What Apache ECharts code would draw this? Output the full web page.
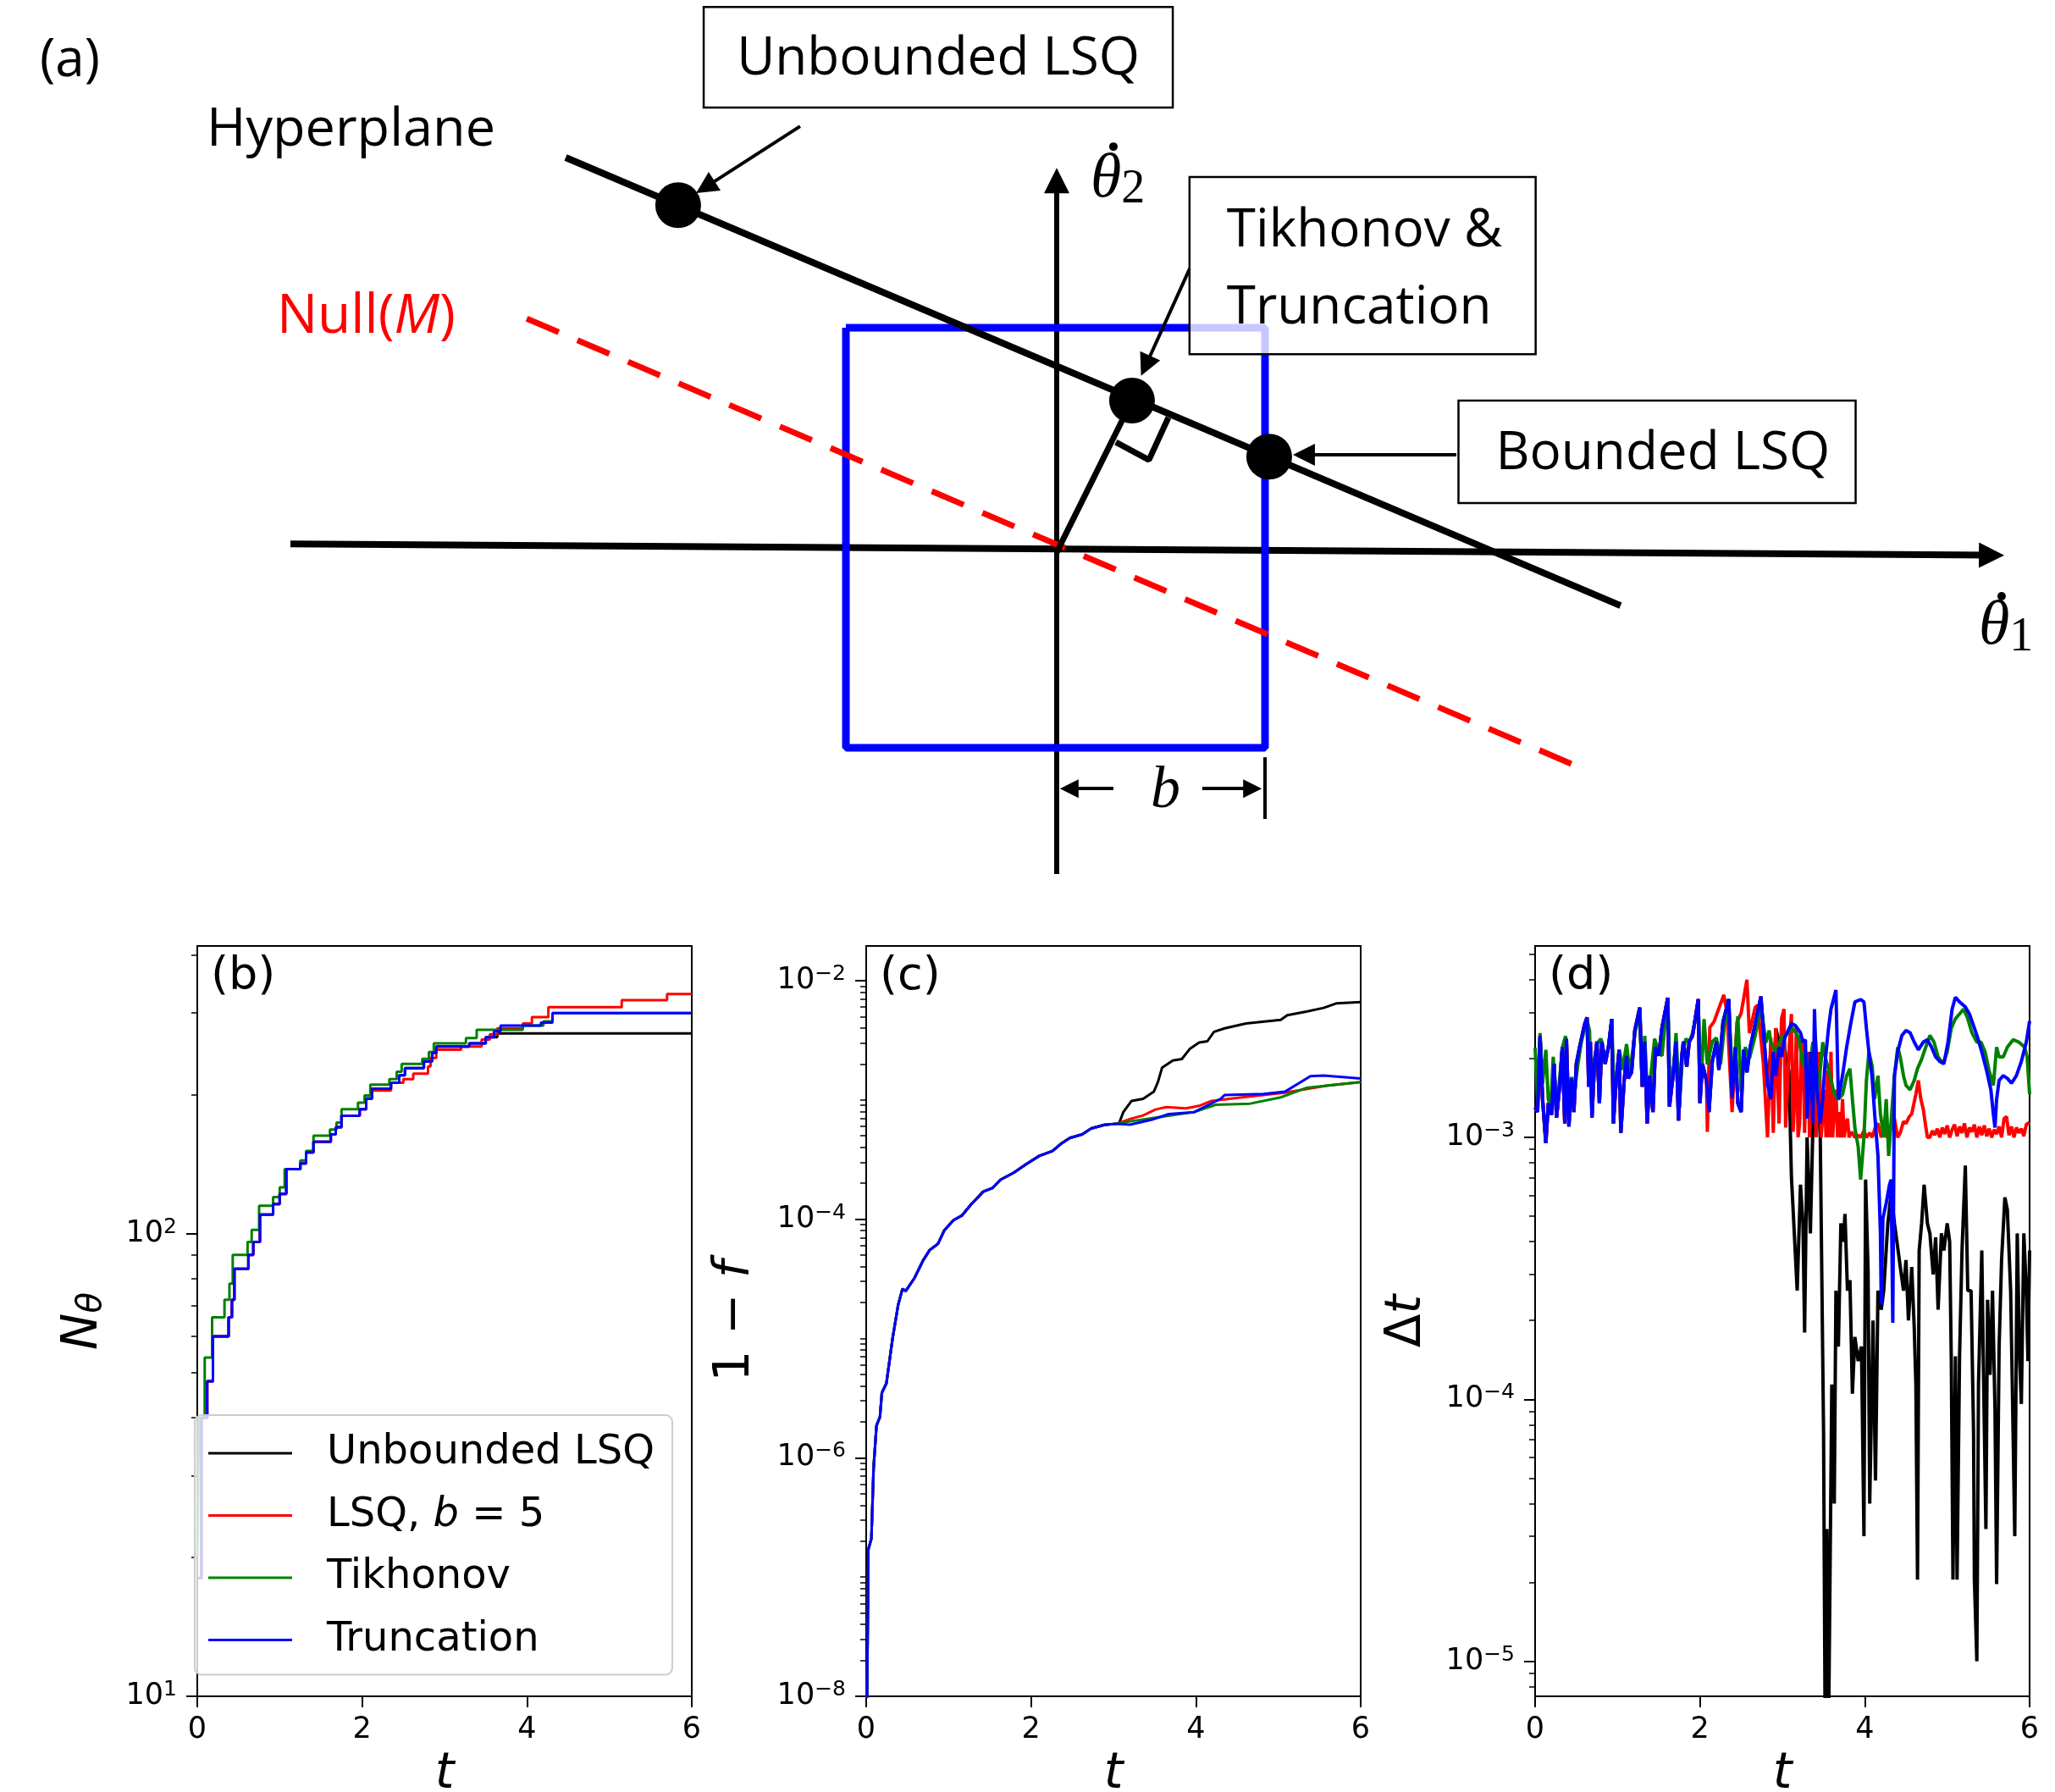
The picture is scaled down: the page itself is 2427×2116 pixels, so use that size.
<!DOCTYPE html>
<html>
<head>
<meta charset="utf-8">
<title>LSQ bounds</title>
<script src="https://cdn.jsdelivr.net/npm/echarts@6/dist/echarts.min.js"></script>
<style>
  html, body { margin: 0; padding: 0; background: #fff; }
  #chart { width: 2427px; height: 2116px; }
</style>
</head>
<body>
<div id="chart"></div>
<script>
// ---------- panel (a): schematic, in units of the bound b ----------
var hyperplane = [[-2.348, 1.887], [2.696, -0.255]];
var nullLine = [[-2.534, 1.117], [2.462, -1.012]];
var boundSquare = [[-1.008, 1.073], [0.996, 1.073], [0.996, -0.935], [-1.008, -0.935], [-1.008, 1.073]];
var axisTheta1 = [[-3.664, 0.040], [4.470, -0.014]];
var axisTheta2 = [[0, -1.538], [0, 1.777]];
var perpLine = [[0, 0], [0.36, 0.725]];
var rightAngle = [[0.283, 0.526], [0.441, 0.441], [0.534, 0.644]];
var solutionDots = [[-1.81, 1.659], [0.36, 0.725], [1.016, 0.457]];
var pointerArrows = [
  [[-1.227, 2.036], [-1.680, 1.745]],
  [[0.636, 1.356], [0.425, 0.891]],
  [[1.911, 0.466], [1.182, 0.466]]
];
var bArrows = [[[0.271, -1.130], [0.06, -1.130]], [[0.696, -1.130], [0.936, -1.130]]];
var bTick = [[0.996, -0.980], [0.996, -1.275]];
// boxes: [u1, v1, u2, v2]
var labelBoxes = [[-1.688, 2.607, 0.555, 2.126], [0.635, 1.794, 2.290, 0.947], [1.921, 0.725, 3.820, 0.235]];
var boxTexts = ['Unbounded LSQ', 'Tikhonov &\nTruncation', 'Bounded LSQ'];
var textAnchors = [[-4.862, 2.348], [-4.065, 2.016], [-3.729, 1.121], [0.162, 1.779], [4.409, -0.36], [0.52, -1.142]];
var overDots = [[0.271, 1.939], [4.518, -0.21]];

// ---------- panels (b)-(d) ----------
var seriesNames = ['Unbounded LSQ', 'LSQ, b = 5', 'Tikhonov', 'Truncation'];
var seriesColors = ['#000000', '#ff0000', '#008000', '#0000ff'];
var tTicks = [0, 2, 4, 6];
var majorB = [10, 100];
var minorB = [20, 30, 40, 50, 60, 70, 80, 90, 200, 300, 400];
var majorC = [1e-8, 1e-6, 1e-4, 1e-2];
var majorD = [1e-5, 1e-4, 1e-3];

// (b) number of parameters, steps [t, N]
var nUnbounded = [[0, 18], [0.05, 40], [0.12, 48], [0.19, 60], [0.38, 66], [0.42, 72], [0.45, 84], [0.62, 90], [0.68, 96], [0.76, 110], [0.92, 116], [1.0, 122], [1.08, 138], [1.25, 142], [1.32, 150], [1.41, 158], [1.62, 164], [1.68, 170], [1.75, 180], [1.97, 186], [2.05, 196], [2.12, 206], [2.35, 212], [2.45, 220], [2.52, 228], [2.75, 236], [2.85, 246], [2.9, 254], [3.3, 258], [3.5, 266], [3.64, 271], [6, 271]];
var nBounded = [[0, 18], [0.05, 40], [0.12, 48], [0.19, 60], [0.38, 66], [0.42, 72], [0.45, 84], [0.62, 90], [0.68, 96], [0.76, 110], [0.92, 116], [1.0, 122], [1.08, 138], [1.25, 142], [1.32, 150], [1.41, 158], [1.62, 164], [1.68, 170], [1.75, 180], [1.97, 186], [2.05, 196], [2.12, 204], [2.35, 212], [2.5, 216], [2.62, 222], [2.8, 230], [2.83, 240], [2.9, 250], [3.2, 254], [3.45, 263], [3.55, 270], [3.64, 278], [3.95, 285], [4.06, 294], [4.26, 309], [5.15, 320], [5.7, 330], [6, 330]];
var nTikhonov = [[0, 20], [0.02, 40], [0.09, 54], [0.18, 66], [0.33, 72], [0.39, 78], [0.43, 90], [0.61, 96], [0.66, 102], [0.75, 115], [0.92, 120], [1.0, 126], [1.06, 138], [1.25, 144], [1.32, 151], [1.41, 163], [1.61, 168], [1.69, 174], [1.75, 186], [1.95, 192], [2.03, 199], [2.10, 210], [2.33, 216], [2.42, 224], [2.48, 233], [2.73, 239], [2.81, 247], [2.87, 258], [3.26, 265], [3.39, 276], [3.95, 282], [4.2, 288], [4.31, 300], [6, 300]];
var nTruncation = [[0, 18], [0.05, 40], [0.12, 48], [0.19, 60], [0.38, 66], [0.42, 72], [0.45, 84], [0.62, 90], [0.68, 96], [0.76, 110], [0.92, 116], [1.0, 122], [1.08, 138], [1.25, 142], [1.32, 150], [1.41, 158], [1.62, 164], [1.68, 170], [1.75, 180], [1.97, 186], [2.05, 196], [2.12, 206], [2.35, 212], [2.45, 220], [2.52, 228], [2.75, 236], [2.85, 246], [2.9, 254], [3.3, 258], [3.5, 266], [3.6, 274], [3.68, 282], [4.17, 286], [4.31, 300], [6, 300]];

// (c) 1 - f
var fidEarly = [[0.01, 8e-9], [0.026, 1.7e-7], [0.063, 2.1e-7], [0.09, 8.3e-7], [0.125, 1.86e-6], [0.167, 2.2e-6], [0.19, 3.5e-6], [0.245, 4.2e-6], [0.32, 1.0e-5], [0.387, 1.9e-5], [0.44, 2.6e-5], [0.48, 2.5e-5], [0.585, 3.2e-5], [0.69, 4.5e-5], [0.77, 5.5e-5], [0.87, 6.2e-5], [0.95, 8.1e-5], [1.06, 9.8e-5], [1.16, 1.07e-4], [1.27, 1.32e-4], [1.42, 1.7e-4], [1.53, 1.82e-4], [1.63, 2.14e-4], [1.79, 2.45e-4], [1.94, 2.88e-4], [2.1, 3.39e-4], [2.26, 3.72e-4], [2.36, 4.27e-4], [2.47, 4.79e-4], [2.62, 5.13e-4], [2.73, 5.75e-4], [2.89, 6.17e-4], [3.04, 6.31e-4]];
var fidUnboundedTail = [[3.07, 6.4e-4], [3.12, 7.9e-4], [3.22, 9.8e-4], [3.36, 1.02e-3], [3.49, 1.17e-3], [3.54, 1.41e-3], [3.59, 1.86e-3], [3.72, 2.14e-3], [3.83, 2.2e-3], [3.93, 2.69e-3], [4.04, 3.02e-3], [4.14, 3.1e-3], [4.22, 3.72e-3], [4.35, 3.98e-3], [4.61, 4.37e-3], [5.03, 4.68e-3], [5.11, 5.13e-3], [5.34, 5.5e-3], [5.55, 5.9e-3], [5.71, 6.45e-3], [6, 6.6e-3]];
var fidBoundedTail = [[3.2, 6.9e-4], [3.36, 7.4e-4], [3.51, 8.3e-4], [3.64, 8.7e-4], [3.88, 8.5e-4], [4.04, 8.9e-4], [4.19, 9.8e-4], [4.56, 1.05e-3], [5.08, 1.15e-3], [5.6, 1.32e-3], [6, 1.41e-3]];
var fidTikhonovTail = [[3.2, 6.6e-4], [3.51, 7.1e-4], [3.98, 7.9e-4], [4.24, 9.1e-4], [4.66, 9.3e-4], [5.03, 1.05e-3], [5.34, 1.26e-3], [6, 1.41e-3]];
var fidTruncationTail = [[3.2, 6.2e-4], [3.46, 6.8e-4], [3.67, 7.6e-4], [3.98, 7.9e-4], [4.3, 1.02e-3], [4.35, 1.1e-3], [4.82, 1.12e-3], [5.08, 1.17e-3], [5.39, 1.58e-3], [5.55, 1.6e-3], [6, 1.51e-3]];

// (d) time step
var dtShared = [[0, 1.30e-3], [0.03, 1.25e-3], [0.06, 2.44e-3], [0.09, 1.41e-3], [0.13, 0.95e-3], [0.16, 1.35e-3], [0.20, 1.22e-3], [0.23, 1.91e-3], [0.26, 1.19e-3], [0.30, 1.60e-3], [0.33, 2.21e-3], [0.36, 1.13e-3], [0.38, 2.38e-3], [0.41, 1.10e-3], [0.44, 1.68e-3], [0.47, 1.25e-3], [0.50, 1.91e-3], [0.54, 2.21e-3], [0.60, 2.70e-3], [0.63, 2.87e-3], [0.65, 1.56e-3], [0.67, 2.32e-3], [0.69, 1.19e-3], [0.72, 1.91e-3], [0.75, 2.32e-3], [0.78, 1.35e-3], [0.81, 2.32e-3], [0.85, 1.91e-3], [0.89, 2.21e-3], [0.93, 2.83e-3], [0.95, 1.13e-3], [0.98, 1.60e-3], [1.02, 2.16e-3], [1.04, 1.04e-3], [1.08, 1.64e-3], [1.11, 2.05e-3], [1.13, 1.68e-3], [1.17, 1.77e-3], [1.21, 2.56e-3], [1.27, 3.13e-3], [1.30, 1.56e-3], [1.33, 2.32e-3], [1.36, 1.13e-3], [1.39, 1.72e-3], [1.43, 1.25e-3], [1.46, 2.21e-3], [1.50, 2.05e-3], [1.54, 2.63e-3], [1.61, 3.41e-3], [1.63, 1.31e-3], [1.67, 1.68e-3], [1.71, 2.32e-3], [1.74, 1.16e-3], [1.78, 2.05e-3], [1.80, 2.32e-3], [1.84, 1.86e-3], [1.87, 2.32e-3], [1.91, 2.44e-3], [1.98, 3.37e-3], [2.00, 1.35e-3], [2.03, 1.91e-3], [2.08, 1.64e-3]];
var dtTruncationMid = [[2.11, 1.25e-3], [2.15, 1.95e-3], [2.20, 2.32e-3], [2.23, 1.81e-3], [2.28, 2.76e-3], [2.35, 3.37e-3], [2.39, 1.41e-3], [2.43, 2.21e-3], [2.46, 1.35e-3], [2.50, 1.25e-3], [2.53, 2.16e-3], [2.57, 1.77e-3], [2.61, 2.21e-3], [2.67, 2.70e-3], [2.74, 3.45e-3], [2.78, 2.32e-3], [2.82, 1.60e-3]];
var dtTruncationTail = [[2.86, 1.40e-3], [2.89, 2.12e-3], [2.92, 1.72e-3], [2.96, 2.21e-3], [2.99, 2.03e-3], [3.03, 2.40e-3], [3.06, 2.51e-3], [3.11, 2.72e-3], [3.16, 2.67e-3], [3.22, 2.51e-3], [3.25, 2.31e-3], [3.28, 2.36e-3], [3.30, 1.18e-3], [3.34, 2.12e-3], [3.37, 1.13e-3], [3.39, 3.09e-3], [3.42, 1.52e-3], [3.46, 1.13e-3], [3.49, 1.40e-3], [3.52, 1.95e-3], [3.56, 2.61e-3], [3.59, 3.09e-3], [3.65, 3.65e-3], [3.68, 1.40e-3], [3.73, 1.72e-3], [3.78, 2.21e-3], [3.83, 2.72e-3], [3.88, 3.29e-3], [3.95, 3.36e-3], [3.99, 3.29e-3], [4.02, 2.61e-3], [4.05, 2.12e-3], [4.09, 1.68e-3], [4.12, 1.23e-3], [4.16, 8.5e-4], [4.19, 4.3e-4], [4.20, 2.3e-4], [4.22, 4.9e-4], [4.26, 5.6e-4], [4.30, 6.6e-4], [4.32, 6.9e-4], [4.34, 1.96e-4], [4.36, 1.72e-3], [4.40, 2.12e-3], [4.45, 2.45e-3], [4.50, 2.56e-3], [4.55, 2.51e-3], [4.60, 2.31e-3], [4.65, 2.16e-3], [4.71, 2.31e-3], [4.76, 2.36e-3], [4.81, 2.21e-3], [4.86, 2.03e-3], [4.91, 1.95e-3], [4.96, 1.91e-3], [5.01, 2.31e-3], [5.06, 3.09e-3], [5.10, 3.43e-3], [5.15, 3.29e-3], [5.22, 3.15e-3], [5.27, 2.96e-3], [5.32, 2.67e-3], [5.37, 2.40e-3], [5.42, 2.12e-3], [5.48, 1.79e-3], [5.53, 1.52e-3], [5.56, 1.23e-3], [5.58, 1.09e-3], [5.60, 1.40e-3], [5.63, 1.65e-3], [5.68, 1.72e-3], [5.73, 1.68e-3], [5.78, 1.61e-3], [5.84, 1.72e-3], [5.90, 1.95e-3], [5.96, 2.31e-3], [6.0, 2.78e-3]];
var dtTikhonov = [[0, 2.2e-3], [0.03, 1.4e-3], [0.06, 2.5e-3], [0.09, 1.6e-3], [0.13, 2.16e-3], [0.16, 1.4e-3], [0.19, 1.3e-3], [0.22, 2.03e-3], [0.26, 1.25e-3], [0.30, 1.7e-3], [0.33, 2.2e-3], [0.37, 2.44e-3], [0.41, 1.2e-3], [0.44, 1.7e-3], [0.48, 1.5e-3], [0.52, 1.91e-3], [0.56, 2.3e-3], [0.61, 2.7e-3], [0.63, 2.8e-3], [0.66, 2.56e-3], [0.69, 1.3e-3], [0.72, 2.0e-3], [0.76, 2.3e-3], [0.80, 2.38e-3], [0.84, 1.95e-3], [0.89, 2.2e-3], [0.93, 2.8e-3], [0.96, 1.4e-3], [1.0, 1.7e-3], [1.03, 2.1e-3], [1.06, 1.81e-3], [1.11, 2.27e-3], [1.15, 1.75e-3], [1.21, 2.5e-3], [1.27, 3.0e-3], [1.30, 1.6e-3], [1.33, 2.44e-3], [1.37, 1.3e-3], [1.41, 1.8e-3], [1.45, 2.38e-3], [1.50, 2.1e-3], [1.54, 2.05e-3], [1.58, 2.8e-3], [1.61, 3.3e-3], [1.64, 1.5e-3], [1.68, 1.8e-3], [1.71, 2.5e-3], [1.75, 1.3e-3], [1.79, 2.1e-3], [1.83, 2.38e-3], [1.87, 2.3e-3], [1.91, 2.5e-3], [1.98, 3.2e-3], [2.01, 1.5e-3], [2.05, 2.83e-3], [2.09, 1.9e-3], [2.15, 2.32e-3], [2.20, 2.4e-3], [2.25, 1.9e-3], [2.30, 2.7e-3], [2.35, 3.1e-3], [2.40, 1.6e-3], [2.46, 2.9e-3], [2.50, 1.5e-3], [2.55, 2.21e-3], [2.60, 2.0e-3], [2.67, 2.44e-3], [2.74, 3.2e-3], [2.80, 2.3e-3], [2.84, 2.56e-3],
  [2.86, 2.31e-3], [2.92, 2.12e-3], [2.99, 2.40e-3], [3.06, 2.51e-3], [3.13, 2.61e-3], [3.20, 2.40e-3], [3.25, 1.87e-3], [3.28, 2.12e-3], [3.32, 1.72e-3], [3.37, 2.31e-3], [3.42, 1.40e-3], [3.47, 1.95e-3], [3.49, 2.31e-3], [3.52, 2.03e-3], [3.58, 1.72e-3], [3.63, 1.46e-3], [3.68, 1.40e-3], [3.73, 1.46e-3], [3.78, 1.72e-3], [3.82, 1.83e-3], [3.85, 1.40e-3], [3.88, 1.09e-3], [3.92, 9.2e-4], [3.95, 6.9e-4], [3.99, 1.0e-3], [4.02, 1.65e-3], [4.05, 2.12e-3], [4.09, 1.87e-3], [4.12, 1.40e-3], [4.16, 1.72e-3], [4.19, 1.23e-3], [4.23, 1.0e-3], [4.26, 1.40e-3], [4.29, 8.5e-4], [4.33, 1.28e-3], [4.36, 1.72e-3], [4.40, 2.21e-3], [4.43, 2.03e-3], [4.47, 1.72e-3], [4.50, 1.58e-3], [4.55, 1.52e-3], [4.60, 1.65e-3], [4.64, 1.83e-3], [4.69, 1.99e-3], [4.74, 2.21e-3], [4.79, 2.45e-3], [4.84, 2.31e-3], [4.89, 2.03e-3], [4.95, 1.91e-3], [5.0, 2.12e-3], [5.05, 2.61e-3], [5.10, 2.84e-3], [5.15, 2.96e-3], [5.20, 3.09e-3], [5.25, 2.84e-3], [5.30, 2.51e-3], [5.36, 2.31e-3], [5.41, 2.31e-3], [5.46, 2.12e-3], [5.51, 1.79e-3], [5.56, 1.58e-3], [5.60, 2.21e-3], [5.63, 2.03e-3], [5.68, 2.03e-3], [5.73, 2.21e-3], [5.80, 2.36e-3], [5.87, 2.31e-3], [5.94, 2.21e-3], [5.97, 2.03e-3], [6.0, 1.46e-3]];
var dtBoundedTail = [[2.09, 1.05e-3], [2.12, 2.63e-3], [2.17, 2.76e-3], [2.29, 3.50e-3], [2.33, 2.98e-3], [2.39, 1.25e-3], [2.45, 2.76e-3], [2.50, 2.98e-3], [2.57, 4.0e-3], [2.60, 2.50e-3], [2.67, 3.13e-3], [2.70, 3.2e-3], [2.77, 1.91e-3], [2.82, 1.0e-3], [2.86, 2.4e-3], [2.89, 1.04e-3], [2.92, 2.61e-3], [2.96, 1.13e-3], [2.99, 2.84e-3], [3.02, 3.09e-3], [3.04, 1.09e-3], [3.08, 2.12e-3],
  [3.11, 2.96e-3], [3.13, 1.05e-3], [3.15, 1.4e-3], [3.17, 2.61e-3], [3.19, 1.0e-3], [3.21, 1.13e-3], [3.23, 2.2e-3], [3.25, 2.31e-3], [3.27, 1.04e-3], [3.29, 1.8e-3], [3.31, 2.12e-3], [3.33, 1.0e-3], [3.35, 1.0e-3], [3.37, 1.9e-3], [3.39, 1.52e-3], [3.41, 1.0e-3], [3.43, 1.6e-3], [3.45, 2.12e-3], [3.47, 1.0e-3], [3.49, 1.2e-3], [3.51, 1.52e-3], [3.53, 1.0e-3], [3.55, 1.8e-3], [3.57, 1.0e-3], [3.59, 2.12e-3], [3.61, 1.0e-3], [3.63, 1.3e-3], [3.65, 1.52e-3], [3.67, 1.0e-3], [3.69, 1.25e-3], [3.71, 1.0e-3], [3.73, 1.4e-3], [3.75, 1.0e-3], [3.77, 1.12e-3], [3.79, 1.18e-3], [3.81, 1.0e-3], [3.84, 1.05e-3], [3.88, 1.0e-3], [3.92, 1.02e-3], [3.95, 1.0e-3], [3.99, 1.06e-3], [4.02, 1.0e-3], [4.06, 1.04e-3], [4.09, 1.0e-3], [4.13, 1.1e-3], [4.16, 1.13e-3], [4.2, 1.0e-3], [4.23, 1.09e-3], [4.27, 1.0e-3], [4.29, 1.0e-3], [4.33, 1.12e-3], [4.36, 1.18e-3], [4.40, 1.0e-3], [4.43, 1.04e-3], [4.47, 1.15e-3], [4.50, 1.13e-3], [4.54, 1.2e-3], [4.57, 1.23e-3], [4.62, 1.46e-3], [4.65, 1.65e-3], [4.68, 1.4e-3], [4.71, 1.28e-3], [4.74, 1.1e-3], [4.76, 1.0e-3], [4.79, 1.0e-3], [4.82, 1.06e-3], [4.85, 1.02e-3], [4.88, 1.08e-3], [4.91, 1.0e-3], [4.94, 1.09e-3], [4.97, 1.03e-3], [5.0, 1.11e-3], [5.03, 1.0e-3], [5.06, 1.07e-3], [5.09, 1.12e-3], [5.12, 1.01e-3], [5.15, 1.1e-3], [5.18, 1.04e-3], [5.21, 1.13e-3], [5.24, 1.0e-3], [5.27, 1.09e-3], [5.30, 1.05e-3], [5.33, 1.12e-3], [5.36, 1.0e-3], [5.39, 1.1e-3], [5.42, 1.02e-3], [5.45, 1.11e-3], [5.48, 1.01e-3], [5.51, 1.08e-3], [5.54, 1.0e-3], [5.57, 1.07e-3], [5.60, 1.03e-3], [5.63, 1.1e-3], [5.66, 1.0e-3], [5.69, 1.18e-3], [5.72, 1.2e-3], [5.75, 1.02e-3], [5.78, 1.1e-3], [5.81, 1.0e-3], [5.84, 1.09e-3], [5.87, 1.04e-3], [5.90, 1.08e-3], [5.93, 1.01e-3], [5.96, 1.12e-3], [6.0, 1.14e-3]];
var dtUnboundedTail = [[2.86, 2.12e-3], [2.89, 1.40e-3], [2.92, 2.61e-3], [2.96, 2.31e-3], [3.01, 2.51e-3], [3.04, 2.03e-3], [3.08, 1.79e-3], [3.11, 7.1e-4], [3.15, 4.0e-4], [3.18, 2.6e-4], [3.22, 6.6e-4], [3.25, 4.7e-4], [3.27, 1.80e-4], [3.30, 1.0e-3], [3.34, 4.3e-4], [3.37, 1.09e-3], [3.40, 2.40e-3], [3.46, 1.0e-3], [3.48, 1.0e-3], [3.50, 7.5e-5], [3.52, 5e-6], [3.54, 3.2e-5], [3.56, 5e-6], [3.58, 5e-6], [3.60, 1.14e-4], [3.63, 4.0e-5], [3.65, 2.6e-4], [3.68, 1.59e-4], [3.71, 4.7e-4], [3.74, 4.0e-4], [3.76, 5.1e-4], [3.79, 2.6e-4], [3.82, 2.85e-4], [3.85, 1.05e-4], [3.88, 1.73e-4], [3.92, 1.40e-4], [3.96, 1.59e-4], [3.99, 3.0e-5], [4.01, 6.9e-4], [4.04, 3.1e-4], [4.06, 4.0e-5], [4.10, 2.0e-4], [4.13, 4.9e-5], [4.16, 2.6e-4], [4.20, 2.2e-4], [4.23, 2.6e-4], [4.28, 4.7e-4], [4.32, 6.1e-4], [4.36, 4.7e-4], [4.39, 4.0e-4], [4.42, 3.4e-4], [4.47, 2.6e-4], [4.50, 3.4e-4], [4.53, 2.0e-4], [4.57, 3.2e-4], [4.60, 1.88e-4], [4.62, 1.14e-4], [4.64, 2.05e-5], [4.66, 3.7e-4], [4.69, 4.7e-4], [4.72, 6.6e-4], [4.76, 4.7e-4], [4.79, 4.3e-4], [4.83, 3.0e-4], [4.86, 4.15e-4], [4.89, 2.2e-4], [4.93, 4.3e-4], [4.96, 3.7e-4], [5.00, 4.7e-4], [5.03, 4.0e-4], [5.05, 1.40e-4], [5.07, 2.05e-5], [5.10, 1.46e-4], [5.12, 2.05e-5], [5.15, 1.46e-4], [5.18, 3.7e-4], [5.22, 7.8e-4], [5.25, 2.6e-4], [5.29, 2.6e-4], [5.32, 7.5e-5], [5.33, 2.05e-5], [5.36, 1.0e-5], [5.38, 1.14e-4], [5.42, 3.7e-4], [5.44, 1.29e-4], [5.47, 3.2e-5], [5.49, 2.4e-4], [5.52, 1.24e-4], [5.55, 2.6e-4], [5.58, 9.2e-5], [5.60, 1.97e-5], [5.63, 1.59e-4], [5.66, 3.4e-4], [5.70, 5.9e-4], [5.73, 5.3e-4], [5.77, 2.6e-4], [5.79, 1.14e-4], [5.82, 3.0e-5], [5.85, 4.3e-4], [5.88, 1.40e-4], [5.90, 9.6e-5], [5.93, 4.3e-4], [5.96, 2.6e-4], [5.98, 1.40e-4], [6.00, 3.7e-4]];

// ---------- helpers ----------
function powLabel(v) {
  var e = Math.round(Math.log10(v));
  return '{b|10}{e|' + (e < 0 ? '−' + (-e) : e) + '}';
}
// minor log ticks (k * 10^e) that are not labelled majors
function logMinors(eLo, eHi, majors) {
  var out = [];
  for (var e = eLo; e <= eHi; e++) {
    for (var k = 1; k <= 9; k++) {
      var v = Number((k * Math.pow(10, e)).toPrecision(3));
      if (majors.indexOf(v) < 0) out.push(v);
    }
  }
  return out;
}
var minorC = logMinors(-8, -2, majorC);
var minorD = logMinors(-6, -3, majorD).filter(function (v) { return v > 1.5e-6; });

var FONT = 'DejaVu Sans';
var DIAG = 'Open Sans';
var SERIF = 'Liberation Serif';

// ---------- axes ----------
var xAxes = [
  { gridIndex: 0, type: 'value', min: -5, max: 4.8, show: false }
];
var yAxes = [
  { gridIndex: 0, type: 'value', min: -1.7, max: 2.64, show: false }
];
var nameRich = {
  i: { fontFamily: FONT, fontStyle: 'italic', fontSize: 58, lineHeight: 60, color: '#000' },
  n: { fontFamily: FONT, fontSize: 58, lineHeight: 60, color: '#000' },
  s: { fontFamily: FONT, fontStyle: 'italic', fontSize: 40, lineHeight: 40, verticalAlign: 'bottom', color: '#000' }
};
var tickRich = {
  b: { fontFamily: FONT, fontSize: 35, lineHeight: 40, color: '#000' },
  e: { fontFamily: FONT, fontSize: 25, lineHeight: 26, verticalAlign: 'top', color: '#000' }
};

function addPanel(gi, yMin, yMax, majors, minors, yName, yGap) {
  xAxes.push({
    gridIndex: gi, type: 'value', min: 0, max: 6, interval: 2,
    name: '{i|t}', nameLocation: 'middle', nameGap: 63,
    nameTextStyle: { rich: nameRich },
    axisLine: { onZero: false, lineStyle: { color: '#000', width: 2 } },
    axisTick: { length: 13, lineStyle: { color: '#000', width: 2 } },
    axisLabel: { fontFamily: FONT, fontSize: 35, color: '#000', margin: 22 },
    splitLine: { show: false }
  });
  yAxes.push({
    gridIndex: gi, type: 'log', min: yMin, max: yMax, position: 'left',
    name: yName, nameLocation: 'middle', nameRotate: 90, nameGap: yGap,
    nameTextStyle: { rich: nameRich },
    axisLine: { onZero: false, lineStyle: { color: '#000', width: 2 } },
    axisTick: { customValues: majors, length: 13, lineStyle: { color: '#000', width: 2 } },
    axisLabel: { customValues: majors, formatter: powLabel, rich: tickRich, margin: 24 },
    splitLine: { show: false }
  });
  yAxes.push({
    gridIndex: gi, type: 'log', min: yMin, max: yMax, position: 'left',
    axisLine: { show: false, onZero: false },
    axisTick: { customValues: minors, length: 7, lineStyle: { color: '#000', width: 1.5 } },
    axisLabel: { show: false },
    splitLine: { show: false }
  });
}
addPanel(1, 10, 419, majorB, minorB, '{i|N}{s|θ}', 104);
addPanel(2, 1e-8, 0.0195, majorC, minorC, '{n|1 − }{i|f}', 124);
addPanel(3, 7.35e-6, 5.38e-3, majorD, minorD, '{n|Δ}{i|t}', 121);

// ---------- series ----------
var series = [];
function diagLine(data, color, width, dash, z) {
  series.push({
    type: 'line', xAxisIndex: 0, yAxisIndex: 0, data: data, symbol: 'none', silent: true,
    lineStyle: { color: color, width: width, type: dash || 'solid', cap: 'butt' }, z: z || 2
  });
}
function diagArrows(list, width, size, z) {
  series.push({
    type: 'lines', coordinateSystem: 'cartesian2d', xAxisIndex: 0, yAxisIndex: 0, silent: true,
    symbol: ['none', 'triangle'], symbolSize: size,
    lineStyle: { color: '#000', width: width, opacity: 1, curveness: 0 },
    data: list.map(function (c) { return { coords: c }; }), z: z || 4
  });
}
diagLine(axisTheta2, '#000', 6, null, 2);
diagLine(axisTheta1, '#000', 8, null, 2);
diagArrows([axisTheta1, axisTheta2], 0.1, 30, 2);
diagLine(boundSquare, '#0000ff', 9, null, 3);
diagLine(nullLine, '#ff0000', 7, [41, 24], 3);
diagLine(hyperplane, '#000', 8, null, 4);
diagLine(perpLine, '#000', 7, null, 4);
diagLine(rightAngle, '#000', 7, null, 4);
diagLine(bTick, '#000', 4, null, 4);
series.push({
  type: 'scatter', xAxisIndex: 0, yAxisIndex: 0, data: solutionDots, symbol: 'circle',
  symbolSize: 54, itemStyle: { color: '#000', opacity: 1 }, silent: true, z: 5
});
// dots of the time derivatives above the theta labels
series.push({
  type: 'scatter', xAxisIndex: 0, yAxisIndex: 0, data: overDots, symbol: 'circle',
  symbolSize: 10, itemStyle: { color: '#000', opacity: 1 }, silent: true, z: 8
});
diagArrows(pointerArrows, 4, 26, 6);
diagArrows(bArrows, 4, 22, 6);
series.push({
  type: 'custom', xAxisIndex: 0, yAxisIndex: 0, data: labelBoxes, silent: true, z: 7,
  renderItem: function (params, api) {
    var p1 = api.coord([api.value(0), api.value(1)]);
    var p2 = api.coord([api.value(2), api.value(3)]);
    var centred = params.dataIndex === 0;
    return {
      type: 'group',
      children: [
        { type: 'rect', shape: { x: p1[0], y: p1[1], width: p2[0] - p1[0], height: p2[1] - p1[1] },
          style: { fill: 'rgba(255,255,255,0.78)', stroke: '#000', lineWidth: 2.5 } },
        { type: 'text', x: centred ? (p1[0] + p2[0]) / 2 : p1[0] + 44, y: (p1[1] + p2[1]) / 2 + (params.dataIndex === 1 ? 5 : 3),
          style: { text: boxTexts[params.dataIndex], fill: '#000', fontFamily: DIAG, fontSize: 62,
            lineHeight: 91, align: centred ? 'center' : 'left', verticalAlign: 'middle' } }
      ]
    };
  }
});
var thetaRich = {
  t: { fontFamily: SERIF, fontStyle: 'italic', fontSize: 74, lineHeight: 80, fill: '#000' },
  s: { fontFamily: SERIF, fontSize: 56, lineHeight: 28, verticalAlign: 'bottom', fill: '#000' }
};
var diagTexts = [
  { text: '(a)', align: 'left', rich: { n: { fontFamily: DIAG, fontSize: 62, fill: '#000' } }, wrap: 'n' },
  { text: 'Hyperplane', align: 'left', rich: { n: { fontFamily: DIAG, fontSize: 63, fill: '#000' } }, wrap: 'n' },
  { text: '{n|Null(}{m|M}{n|)}', align: 'left', rich: {
      n: { fontFamily: DIAG, fontSize: 64, fill: '#ff0000' },
      m: { fontFamily: DIAG, fontSize: 64, fontStyle: 'italic', fill: '#ff0000' } } },
  { text: '{t|θ}{s|2}', align: 'left', rich: thetaRich },
  { text: '{t|θ}{s|1}', align: 'left', rich: thetaRich },
  { text: 'b', align: 'center', rich: { n: { fontFamily: SERIF, fontStyle: 'italic', fontSize: 70, fill: '#000' } }, wrap: 'n' }
];
series.push({
  type: 'custom', xAxisIndex: 0, yAxisIndex: 0, data: textAnchors, silent: true, z: 8,
  renderItem: function (params, api) {
    var p = api.coord([api.value(0), api.value(1)]);
    var d = diagTexts[params.dataIndex];
    var txt = d.wrap ? '{' + d.wrap + '|' + d.text + '}' : d.text;
    return { type: 'text', x: p[0], y: p[1],
      style: { text: txt, rich: d.rich, align: d.align, verticalAlign: 'middle' } };
  }
});

// panels (b)-(d)
var panelData = [
  [nUnbounded, nBounded, nTikhonov, nTruncation],
  [fidEarly.concat(fidUnboundedTail), fidEarly.concat(fidBoundedTail), fidEarly.concat(fidTikhonovTail), fidEarly.concat(fidTruncationTail)],
  [dtShared.concat(dtTruncationMid, dtUnboundedTail), dtShared.concat(dtBoundedTail), dtTikhonov, dtShared.concat(dtTruncationMid, dtTruncationTail)]
];
panelData.forEach(function (sets, p) {
  sets.forEach(function (data, k) {
    series.push({
      name: seriesNames[k], type: 'line', xAxisIndex: p + 1, yAxisIndex: 1 + p * 2,
      data: data, symbol: 'none', showSymbol: false, step: p === 0 ? 'end' : false,
      lineStyle: { color: seriesColors[k], width: p === 2 ? 4 : 3 },
      itemStyle: { color: seriesColors[k] }, silent: true, z: 2 + k, animation: false
    });
  });
});

var titleStyle = { fontFamily: FONT, fontSize: 54, fontWeight: 'normal', color: '#000', lineHeight: 60 };
var frame = { show: true, borderColor: '#000', borderWidth: 2, backgroundColor: 'transparent', outerBoundsMode: 'none', containLabel: false };
var grids = [
  { left: 13, top: 0, width: 2420.6, height: 1072, show: false, outerBoundsMode: 'none', containLabel: false },
  Object.assign({ left: 233, top: 1117, width: 584, height: 886 }, frame),
  Object.assign({ left: 1023, top: 1117, width: 584, height: 886 }, frame),
  Object.assign({ left: 1813, top: 1117, width: 584, height: 886 }, frame)
];

var option = {
  animation: false,
  backgroundColor: '#ffffff',
  title: [
    { text: '(b)', left: 249, top: 1124, padding: 0, textStyle: titleStyle },
    { text: '(c)', left: 1039, top: 1124, padding: 0, textStyle: titleStyle },
    { text: '(d)', left: 1829, top: 1124, padding: 0, textStyle: titleStyle }
  ],
  legend: {
    data: seriesNames, left: 230, top: 1671, orient: 'vertical', icon: 'rect',
    itemWidth: 99, itemHeight: 3, itemGap: 23.5, padding: [20, 21, 16, 16],
    backgroundColor: 'rgba(255,255,255,0.8)', borderColor: '#cccccc', borderWidth: 2, borderRadius: 8,
    selectedMode: false, z: 10,
    formatter: function (name) { return name === 'LSQ, b = 5' ? 'LSQ, {i|b} = 5' : name; },
    textStyle: {
      fontFamily: FONT, fontSize: 48, color: '#000', lineHeight: 50, padding: [0, 0, 0, 36],
      rich: { i: { fontFamily: FONT, fontStyle: 'italic', fontSize: 48, lineHeight: 50, color: '#000' } }
    }
  },
  grid: grids,
  xAxis: xAxes,
  yAxis: yAxes,
  series: series
};

var myChart = echarts.init(document.getElementById('chart'), null, { renderer: 'canvas' });
myChart.setOption(option);
</script>
</body>
</html>
